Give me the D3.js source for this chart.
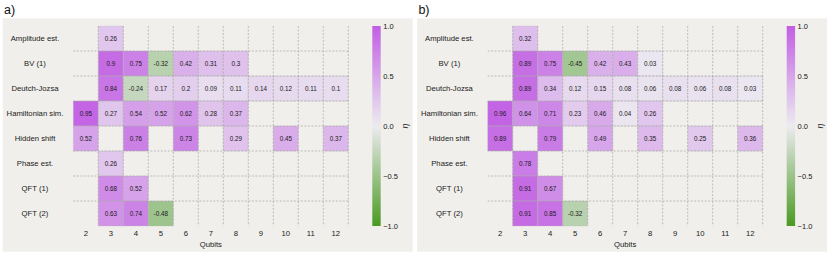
<!DOCTYPE html>
<html>
<head>
<meta charset="utf-8">
<script src="https://cdn.jsdelivr.net/npm/d3@7"></script>
<style>
  body { margin: 0; background: #fff; }
  text { font-family: "Liberation Sans", Arial, sans-serif; }
</style>
</head>
<body>
<div id="container"></div>
<script>
let w = 831;
let h = 255;

let rowNames = ["Amplitude est.", "BV (1)", "Deutch-Jozsa", "Hamiltonian sim.", "Hidden shift", "Phase est.", "QFT (1)", "QFT (2)"];
let qubits = [2, 3, 4, 5, 6, 7, 8, 9, 10, 11, 12];
let cbTicks = [-1, -0.5, 0, 0.5, 1];

// one row per algorithm, one entry per qubit count (null = no cell)
let valuesA = [
  [null, 0.26, null, null, null, null, null, null, null, null, null],
  [null, 0.9, 0.75, -0.32, 0.42, 0.31, 0.3, null, null, null, null],
  [null, 0.84, -0.24, 0.17, 0.2, 0.09, 0.11, 0.14, 0.12, 0.11, 0.1],
  [0.95, 0.27, 0.54, 0.52, 0.62, 0.28, 0.37, null, null, null, null],
  [0.52, null, 0.76, null, 0.73, null, 0.29, null, 0.45, null, 0.37],
  [null, 0.26, null, null, null, null, null, null, null, null, null],
  [null, 0.68, 0.52, null, null, null, null, null, null, null, null],
  [null, 0.63, 0.74, -0.48, null, null, null, null, null, null, null]
];
let valuesB = [
  [null, 0.32, null, null, null, null, null, null, null, null, null],
  [null, 0.89, 0.75, -0.45, 0.42, 0.43, 0.03, null, null, null, null],
  [null, 0.89, 0.34, 0.12, 0.15, 0.08, 0.06, 0.08, 0.06, 0.08, 0.03],
  [0.96, 0.64, 0.71, 0.23, 0.46, 0.04, 0.26, null, null, null, null],
  [0.89, null, 0.79, null, 0.49, null, 0.35, null, 0.25, null, 0.36],
  [null, 0.78, null, null, null, null, null, null, null, null, null],
  [null, 0.91, 0.67, null, null, null, null, null, null, null, null],
  [null, 0.91, 0.85, -0.32, null, null, null, null, null, null, null]
];

let color = d3.scaleLinear()
  .domain([-1, 0, 1])
  .range(["#4a9a22", "#ecebf0", "#c15ee3"]);

let viz = d3.select("#container")
  .append("svg")
    .attr("width", w)
    .attr("height", h)
;

// gradient for the colorbars
let grad = viz.append("defs").append("linearGradient")
  .attr("id", "cbGrad")
  .attr("x1", 0).attr("y1", 1).attr("x2", 0).attr("y2", 0);
d3.range(0, 1.0001, 0.05).forEach(function(t){
  grad.append("stop").attr("offset", t).attr("stop-color", color(-1 + 2*t));
});

function drawPanel(offset, label, values){
  let g = viz.append("g").attr("transform", "translate(" + offset + ",0)");

  g.append("rect")
    .attr("x", 2.7).attr("y", 18.3)
    .attr("width", 410).attr("height", 233.4)
    .attr("fill", "#f0efeb");

  g.append("text")
    .attr("x", 4).attr("y", 14)
    .attr("font-size", 12.5)
    .attr("fill", "#111")
    .text(label);

  let xScale = d3.scaleBand().domain(qubits).range([73.3, 348.3]);
  let yScale = d3.scaleBand().domain(rowNames).range([26, 226]);

  let cells = [];
  values.forEach(function(row, i){
    row.forEach(function(v, j){
      if (v !== null) cells.push({row: rowNames[i], q: qubits[j], v: v});
    });
  });

  let cellGroups = g.selectAll(".cell").data(cells).enter()
    .append("g").classed("cell", true)
    .attr("transform", function(d){
      return "translate(" + xScale(d.q) + "," + yScale(d.row) + ")";
    });
  cellGroups.append("rect")
    .attr("width", xScale.bandwidth())
    .attr("height", yScale.bandwidth())
    .attr("fill", function(d){ return color(d.v); })
    .attr("stroke", "#b8b8b8")
    .attr("stroke-width", 0.5)
    .attr("stroke-dasharray", "1,1");
  cellGroups.append("text")
    .attr("x", xScale.bandwidth()/2)
    .attr("y", yScale.bandwidth()/2)
    .attr("dy", "0.35em")
    .attr("text-anchor", "middle")
    .attr("font-size", 6.3)
    .attr("fill", "#1a1a1a")
    .text(function(d){ return d.v; });

  // dashed grid
  let gridGroup = g.append("g").classed("grid", true);
  gridGroup.selectAll(".vline").data(qubits.slice(1).concat(["end"])).enter()
    .append("line")
      .attr("x1", function(d){ return d === "end" ? 348.3 : xScale(d); })
      .attr("x2", function(d){ return d === "end" ? 348.3 : xScale(d); })
      .attr("y1", 26).attr("y2", 226);
  gridGroup.selectAll(".hline").data(rowNames.slice(1)).enter()
    .append("line")
      .attr("x1", 73.3).attr("x2", 348.3)
      .attr("y1", function(d){ return yScale(d); })
      .attr("y2", function(d){ return yScale(d); });
  gridGroup.selectAll("line")
    .attr("stroke", "#a8a8a8")
    .attr("stroke-width", 0.7)
    .attr("stroke-dasharray", "2,1.5");

  // row labels
  g.selectAll(".rowLabel").data(rowNames).enter()
    .append("text")
      .attr("x", 35)
      .attr("y", function(d){ return yScale(d) + yScale.bandwidth()/2; })
      .attr("dy", "0.35em")
      .attr("text-anchor", "middle")
      .attr("font-size", 7.7)
      .attr("fill", "#1a1a1a")
      .text(function(d){ return d; });

  // x axis
  let xAxis = d3.axisBottom(xScale).tickSize(0).tickPadding(5);
  let xAxisGroup = g.append("g").attr("transform", "translate(0,226)").call(xAxis);
  xAxisGroup.select(".domain").remove();
  xAxisGroup.selectAll("text").attr("font-size", 7.7).attr("fill", "#1a1a1a");
  g.append("text")
    .attr("x", 210.8).attr("y", 247)
    .attr("text-anchor", "middle")
    .attr("font-size", 7.7)
    .attr("fill", "#1a1a1a")
    .text("Qubits");

  // colorbar
  g.append("rect")
    .attr("x", 372.3).attr("y", 26)
    .attr("width", 8.4).attr("height", 200)
    .attr("fill", "url(#cbGrad)");
  let cbScale = d3.scaleLinear().domain([-1, 1]).range([226, 26]);
  let cbAxis = d3.axisRight(cbScale).tickValues(cbTicks).tickFormat(d3.format(".1f")).tickSize(0).tickPadding(2.5);
  let cbGroup = g.append("g").attr("transform", "translate(380.7,0)").call(cbAxis);
  cbGroup.select(".domain").remove();
  cbGroup.selectAll("text").attr("font-size", 7.5).attr("fill", "#1a1a1a");
  g.append("text")
    .attr("transform", "translate(405,126) rotate(-90)")
    .attr("text-anchor", "middle")
    .attr("dy", "0.35em")
    .attr("font-size", 9)
    .attr("font-style", "italic")
    .attr("fill", "#1a1a1a")
    .text("η");
}

drawPanel(0, "a)", valuesA);
drawPanel(414.4, "b)", valuesB);
</script>
</body>
</html>
